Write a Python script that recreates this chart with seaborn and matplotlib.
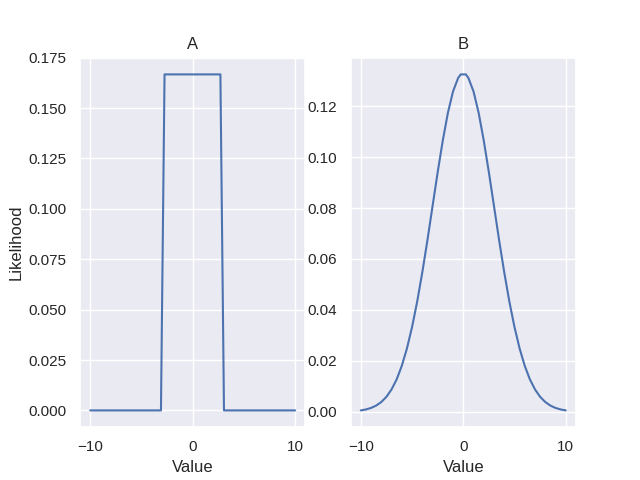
import matplotlib
matplotlib.use("Agg")
import matplotlib.pyplot as plt
import seaborn as sns
import pandas as pd

sns.set_theme()
plt.rcParams["font.family"] = ["Liberation Sans", "DejaVu Sans"]

# Panel A: uniform likelihood
a_x = [-10.0, -3.1, -2.75, 2.7, 3.05, 10.0]
a_y = [0.0, 0.0, 0.1667, 0.1667, 0.0, 0.0]

# Panel B: bell-shaped likelihood
b_x = [-10, -9.5, -9, -8.5, -8, -7.5, -7, -6.5, -6, -5.5, -5, -4.5, -4, -3.5, -3,
       -2.5, -2, -1.5, -1, -0.5, -0.25, 0.25, 0.5, 1, 1.5, 2, 2.5, 3, 3.5, 4, 4.5,
       5, 5.5, 6, 6.5, 7, 7.5, 8, 8.5, 9, 9.5, 10]
b_y = [0.00051, 0.00088, 0.00148, 0.00240, 0.00380, 0.00584, 0.00874, 0.0127,
       0.0180, 0.0248, 0.0332, 0.0432, 0.0547, 0.0673, 0.0807, 0.0940, 0.1065,
       0.1174, 0.1258, 0.1311, 0.1325, 0.1325, 0.1311, 0.1258, 0.1174, 0.1065,
       0.0940, 0.0807, 0.0673, 0.0547, 0.0432, 0.0332, 0.0248, 0.0180, 0.0127,
       0.00874, 0.00584, 0.00380, 0.00240, 0.00148, 0.00088, 0.00051]

df_a = pd.DataFrame({"Value": a_x, "Likelihood": a_y})
df_b = pd.DataFrame({"Value": b_x, "Likelihood": b_y})

fig, axes = plt.subplots(1, 2, figsize=(6.4, 4.8), dpi=100)
sns.lineplot(data=df_a, x="Value", y="Likelihood", ax=axes[0], sort=False)
sns.lineplot(data=df_b, x="Value", y="Likelihood", ax=axes[1], sort=False)
axes[0].set_title("A")
axes[1].set_title("B")
axes[1].set_ylabel("")
fig.savefig("out.png")
